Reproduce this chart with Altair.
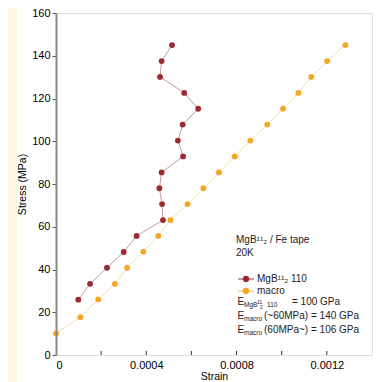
import altair as alt
import pandas as pd

# ---- data ----
macro_strain = [0.0, 0.000108, 0.000187, 0.000261, 0.000315, 0.000387, 0.000453, 0.000507,
                0.000583, 0.000653, 0.000722, 0.000792, 0.000861, 0.000936, 0.001006,
                0.001074, 0.001131, 0.001201, 0.001282]
macro_stress = [10.1, 17.7, 26.0, 33.3, 40.8, 48.4, 55.7, 63.1, 70.6, 78.0, 85.4, 92.9,
                100.3, 107.8, 115.2, 122.6, 130.1, 137.5, 145.0]
mgb_strain = [0.0000988, 0.000151, 0.000226, 0.000300, 0.000357, 0.000474, 0.000470,
              0.000458, 0.000468, 0.000563, 0.000540, 0.000561, 0.000630, 0.000568,
              0.000461, 0.000468, 0.000514]
mgb_stress = [25.9, 33.3, 40.8, 48.2, 55.7, 63.1, 70.6, 78.0, 85.4, 92.9, 100.3, 107.8,
              115.2, 122.6, 130.1, 137.5, 145.0]
x_ticks = [0, 0.0002, 0.0004, 0.0006, 0.0008, 0.001, 0.0012, 0.0014]
y_ticks = [0, 20, 40, 60, 80, 100, 120, 140, 160]

RED, RED_LINE = "#9c2a30", "#c39a9e"
ORG, ORG_LINE = "#f6a623", "#f7dca6"
FONT = "Liberation Sans"
W, H = 316, 342
FS = 10

macro = pd.DataFrame({"strain": macro_strain, "stress": macro_stress, "i": range(len(macro_strain))})
mgb = pd.DataFrame({"strain": mgb_strain, "stress": mgb_stress, "i": range(len(mgb_strain))})

xs = alt.Scale(domain=[0, 0.0014], nice=False, zero=False)
ys = alt.Scale(domain=[0, 160], nice=False)

xenc = alt.X("strain:Q", scale=xs, title="Strain",
             axis=alt.Axis(values=x_ticks, tickSize=0, grid=False, domain=False,
                           labelExpr="round(datum.value*10000) % 4 == 0 ? (datum.value == 0 ? '0' : format(datum.value, '.4f')) : ''",
                           labelPadding=4, titlePadding=1, titleFontWeight="normal",
                           labelFontSize=11, titleFontSize=10.5, zindex=1))
yenc = alt.Y("stress:Q", scale=ys, title="Stress (MPa)",
             axis=alt.Axis(values=y_ticks, tickSize=4, grid=False, domainColor="#888",
                           domainWidth=2, tickColor="#555", labelPadding=2, titlePadding=4,
                           titleFontWeight="normal", labelFontSize=11, titleFontSize=10.5,
                           zindex=1))


def series(df, lc, pc):
    ln = alt.Chart(df).mark_line(color=lc, strokeWidth=1).encode(x=xenc, y=yenc, order="i:Q")
    pt = alt.Chart(df).mark_circle(color=pc, size=34, opacity=1).encode(x=xenc, y=yenc)
    return ln + pt


# inward x ticks drawn via the x scale
tick_df = pd.DataFrame({"strain": x_ticks[1:-1]})
xtick_marks = alt.Chart(tick_df).mark_rule(color="#333", strokeWidth=1).encode(
    x=alt.X("strain:Q", scale=xs), y=alt.value(H), y2=alt.value(H - 4))

# decorative cream strip at far left
strip = alt.Chart(pd.DataFrame({"a": [0]})).mark_rect(color="#fbf7e5").encode(
    x=alt.value(-48), x2=alt.value(-39), y=alt.value(-13), y2=alt.value(H + 40))


def txt(s, x, y, size=FS):
    return alt.Chart(pd.DataFrame({"t": [s]})).mark_text(
        align="left", baseline="middle", font=FONT, fontSize=size, color="#222").encode(
        text="t:N", x=alt.value(x), y=alt.value(y))


def leg(y, lc, pc):
    r = alt.Chart(pd.DataFrame({"a": [0]})).mark_rule(color=lc, strokeWidth=2).encode(
        x=alt.value(182), x2=alt.value(198), y=alt.value(y))
    c = alt.Chart(pd.DataFrame({"a": [0]})).mark_circle(color=pc, size=40, opacity=1).encode(
        x=alt.value(190), y=alt.value(y))
    return r + c


# plot-area origin is at page (56, 13)
ann = [
    txt("MgB¹¹₂ / Fe tape", 180, 227),
    txt("20K", 180, 240),
    leg(266, RED_LINE, RED), txt("MgB¹¹₂ 110", 201, 266),
    leg(278, ORG_LINE, ORG), txt("macro", 201, 278),
    txt("E", 181.5, 289), txt("MgB", 188, 292, 6.5), txt("11", 201, 289, 5),
    txt("2", 204, 294, 5), txt("110", 211, 292, 6.5), txt("= 100 GPa", 236, 289),
    txt("E", 181.5, 303), txt("macro", 188, 306, 6.5), txt("(~60MPa) = 140 GPa", 208, 303),
    txt("E", 181.5, 317), txt("macro", 188, 320, 6.5), txt("(60MPa~) = 106 GPa", 208, 317),
]

chart = alt.layer(
    strip, series(macro, ORG_LINE, ORG), series(mgb, RED_LINE, RED), xtick_marks, *ann
).properties(
    width=W, height=H,
    autosize=alt.AutoSizeParams(type="none"),
    padding={"left": 48, "top": 5, "right": 7, "bottom": 27},
).configure_view(stroke="#333", strokeWidth=1).configure_axis(
    labelFont=FONT, titleFont=FONT, labelColor="#333", titleColor="#222"
).configure(background="white")

chart.save("out.html", embed_options={"renderer": "svg", "actions": False})
